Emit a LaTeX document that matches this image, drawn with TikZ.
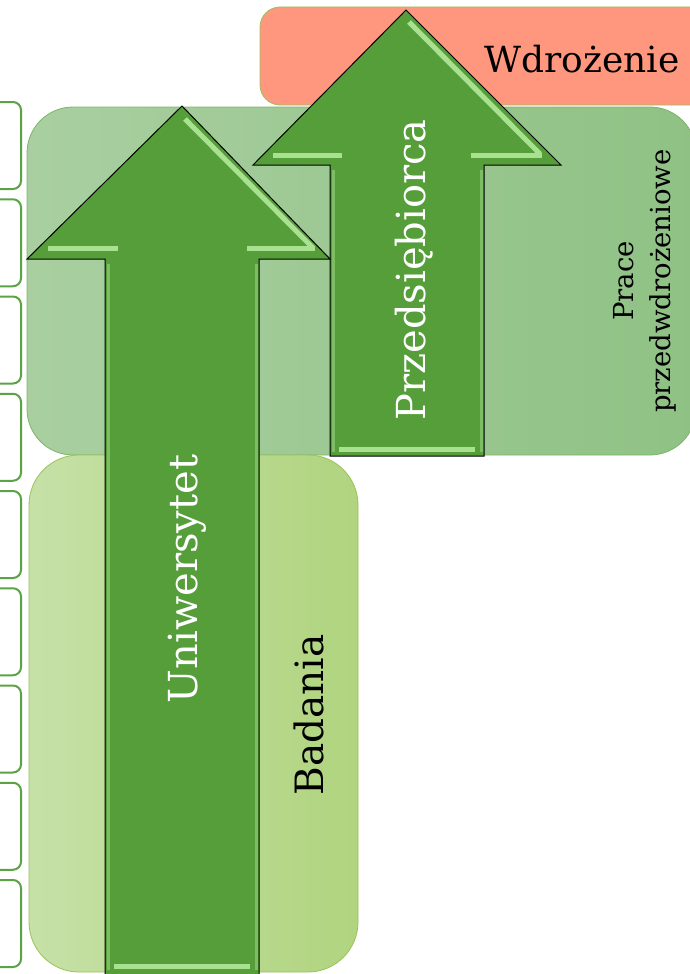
\documentclass[tikz,border=0pt]{standalone}
\usepackage{fontspec}
\setmainfont{DejaVu Serif}
\usepackage{tikz}
\usepackage{xcolor}
\definecolor{arrowgreen}{HTML}{559E3A}
\definecolor{bevelgreen}{HTML}{A8E290}
\definecolor{edgegreen}{HTML}{7DBE64}
\definecolor{praceleft}{HTML}{A9CFA1}
\definecolor{praceright}{HTML}{8FC184}
\definecolor{badleft}{HTML}{C6E1A6}
\definecolor{badright}{HTML}{B0D47F}
\definecolor{salmon}{HTML}{FF977E}
\definecolor{boxgreen}{HTML}{5BA344}
\definecolor{limeline}{HTML}{9BC25A}

\begin{document}
\begin{tikzpicture}[x=1pt, y=-1pt,
        arrowbody/.style={fill=arrowgreen, draw=black, line width=1pt, line join=miter},
        bevel/.style={draw=bevelgreen, line width=5pt},
        shaftedge/.style={draw=edgegreen, line width=3pt},
        sidebox/.style={rounded corners=8pt, draw=boxgreen, line width=2pt, fill=white}]
        \useasboundingbox (0,0) rectangle (690,974);
        \clip (0,0) rectangle (690,974);
        % stages
        \draw[rounded corners=20pt, fill=salmon, draw=limeline, line width=0.8pt] (260,7) rectangle (740,105);
        \draw[rounded corners=46pt, left color=praceleft, right color=praceright, draw=boxgreen!80, line width=0.8pt] (27,107) rectangle (696,455);
        \draw[rounded corners=50pt, left color=badleft, right color=badright, draw=limeline, line width=0.8pt] (29,455) rectangle (358,972);
        % side boxes
        \foreach \i in {0,...,8}
            \draw[sidebox] (-40,102+97.25*\i) rectangle (21,189+97.25*\i);
        % Przedsiebiorca arrow
        \filldraw[arrowbody] (406,10) -- (561,165) -- (484,165) -- (484,456) -- (330,456) -- (330,165) -- (253,165) -- cycle;
        \draw[shaftedge] (333,170) -- (333,452);
        \draw[shaftedge] (481,170) -- (481,452);
        \draw[bevel] (409,22) -- (540,154);
        \draw[bevel] (542,155) -- (471,155);
        \draw[bevel] (273,155) -- (342,155);
        \draw[bevel] (339,449) -- (475,449);
        % Uniwersytet arrow
        \filldraw[arrowbody] (182,106) -- (330,259) -- (259,259) -- (259,975) -- (105,975) -- (105,259) -- (27,259) -- cycle;
        \draw[shaftedge] (108,264) -- (108,970);
        \draw[shaftedge] (256,264) -- (256,970);
        \draw[bevel] (185,119) -- (313,248);
        \draw[bevel] (315,248) -- (247,248);
        \draw[bevel] (48,248) -- (118,248);
        \draw[bevel] (114,966) -- (250,966);
        % labels
        \node[rotate=90, anchor=base, text=white, font=\fontsize{40}{44}\selectfont] (uniLabel) at (197,579) {Uniwersytet};
        \node[rotate=90, anchor=base, text=white, font=\fontsize{40}{44}\selectfont] (firmLabel) at (425,270) {Przedsiębiorca};
        \node[rotate=90, anchor=base, font=\fontsize{39}{44}\selectfont] (badLabel) at (323,715) {Badania};
        \node[anchor=base, font=\fontsize{36}{40}\selectfont] (wdrLabel) at (582,73) {Wdrożenie};
        \node[rotate=90, align=center, font=\fontsize{27.5}{37}\selectfont] (praceLabel) at (645,281) {Prace\\przedwdrożeniowe};
\end{tikzpicture}
\end{document}
